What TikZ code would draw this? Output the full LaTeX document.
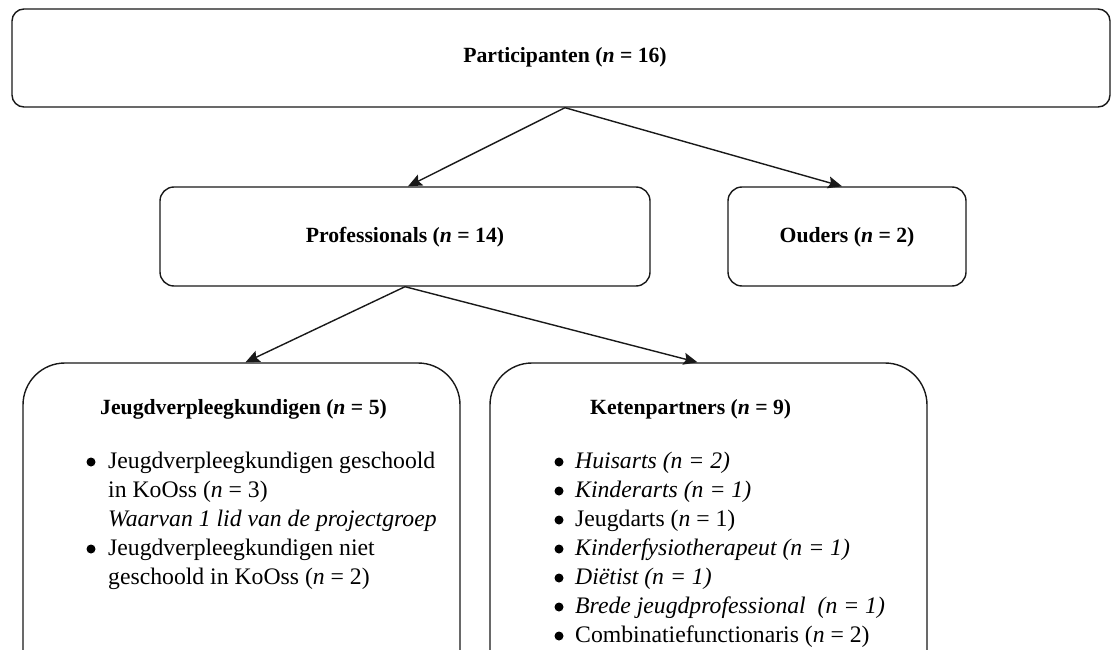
\documentclass[tikz,border=0pt]{standalone}
\usepackage{fontspec}
\setmainfont{Liberation Serif}
\usetikzlibrary{arrows.meta}
\newcommand\ttlfont{\fontsize{21.7}{26}\selectfont\bfseries}
\newcommand\bodyfont{\fontsize{23.7}{29}\selectfont}
\begin{document}
\begin{tikzpicture}[x=1pt,y=-1pt,
  box/.style={draw=black!90,line width=1.4pt,rounded corners=#1,inner sep=0pt,fill=white},
  conn/.style={draw=black!90,line width=1.4pt,-{Stealth[length=14pt,width=12pt,inset=2.5pt]}},
  ttl/.style={font=\ttlfont,inner sep=0pt},
  lst/.style={font=\bodyfont,inner sep=0pt,anchor=base west},
  bul/.style={circle,fill=black,inner sep=0pt,minimum size=9pt}
]
\useasboundingbox (0,0) rectangle (1113,650);
\clip (0,0) rectangle (1113,650);
\fill[white] (0,0) rectangle (1113,650);

% boxes
\node[box=12,minimum width=1098pt,minimum height=98pt] (top) at (561,58) {};
\node[box=14,minimum width=490pt,minimum height=99pt] (prof) at (405,236.5) {};
\node[box=14,minimum width=238pt,minimum height=99pt] (ouders) at (847,236.5) {};
\node[box=42,minimum width=437pt,minimum height=330pt] (jeugd) at (241.5,528) {};
\node[box=42,minimum width=437pt,minimum height=330pt] (keten) at (708.5,528) {};

% titles
\node[ttl] (ttop) at (565,57) {Participanten (\textit{n} = 16)};
\node[ttl] (tprof) at (405,237) {Professionals (\textit{n} = 14)};
\node[ttl] (touders) at (847,237) {Ouders (\textit{n} = 2)};
\node[ttl,anchor=west] (tjeugd) at (100,409) {Jeugdverpleegkundigen (\textit{n} = 5)};
\node[ttl,anchor=west] (tketen) at (590,409) {Ketenpartners (\textit{n} = 9)};

% lists
\node[lst] (ljeugd) at (108,468.5) {\begin{tabular}[t]{@{}l@{}}
Jeugdverpleegkundigen geschoold\\
in KoOss (\textit{n} = 3)\\
\textit{Waarvan 1 lid van de projectgroep}\\
Jeugdverpleegkundigen niet\\
geschoold in KoOss (\textit{n} = 2)
\end{tabular}};

\node[lst] (lketen) at (575,468.5) {\raisebox{0pt}[\height][178pt]{\begin{tabular}[t]{@{}l@{}}
\textit{Huisarts (n = 2)}\\
\textit{Kinderarts (n = 1)}\\
Jeugdarts (\textit{n} = 1)\\
\textit{Kinderfysiotherapeut (n = 1)}\\
\textit{Diëtist (n = 1)}\\
\textit{Brede jeugdprofessional\ \ (n = 1)}\\
Combinatiefunctionaris (\textit{n} = 2)
\end{tabular}}};

% bullets
\node[bul] (jb1) at (91,462) {};
\node[bul] (jb2) at (91,549) {};
\foreach \i in {0,...,6} {
  \node[bul] (kb\i) at (559,462+29*\i) {};
}

% connectors
\draw[conn] ([xshift=4pt]top.south) -- ([xshift=3pt]prof.north);
\draw[conn] ([xshift=4pt]top.south) -- ([xshift=-5pt]ouders.north);
\draw[conn] (prof.south) -- ([xshift=4pt]jeugd.north);
\draw[conn] (prof.south) -- ([xshift=-11pt]keten.north);
\end{tikzpicture}
\end{document}
